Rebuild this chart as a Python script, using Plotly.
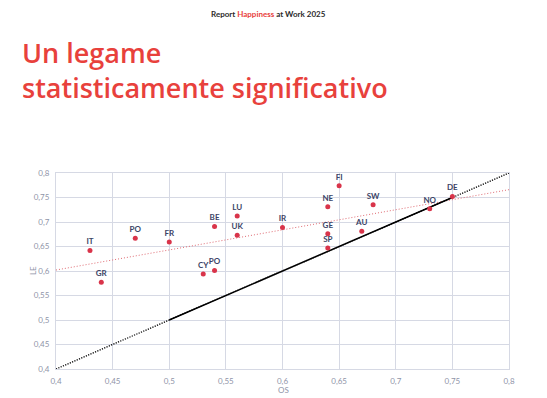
import plotly.graph_objects as go

# ---- data ----
countries = ["IT", "GR", "PO", "FR", "CY", "PO", "BE", "LU", "UK", "IR",
             "NE", "GE", "SP", "FI", "AU", "SW", "NO", "DE"]
os_vals = [0.43, 0.44, 0.47, 0.50, 0.53, 0.54, 0.54, 0.56, 0.56, 0.60,
           0.64, 0.64, 0.64, 0.65, 0.67, 0.68, 0.73, 0.75]
le_vals = [0.642, 0.577, 0.667, 0.659, 0.594, 0.601, 0.691, 0.712, 0.673, 0.689,
           0.731, 0.676, 0.647, 0.774, 0.681, 0.735, 0.727, 0.752]

diag_x = [0.4, 0.8]
diag_y = [0.4, 0.8]
diag_solid_x = [0.5, 0.75]
diag_solid_y = [0.5, 0.75]
trend_x = [0.4, 0.8]
trend_y = [0.602, 0.766]

tick_vals = [0.4, 0.45, 0.5, 0.55, 0.6, 0.65, 0.7, 0.75, 0.8]

RED = "#e8413c"
NAVY = "#3b4466"
GRID = "#d6d9e4"
TICK = "#8f94a8"

fig = go.Figure()

fig.add_trace(go.Scatter(x=trend_x, y=trend_y, mode="lines",
                         line=dict(color="#e06a72", width=1, dash="1px,2px"),
                         hoverinfo="skip", showlegend=False))
fig.add_trace(go.Scatter(x=diag_x, y=diag_y, mode="lines",
                         line=dict(color="black", width=1.3, dash="1.2px,1.3px"),
                         hoverinfo="skip", showlegend=False))
fig.add_trace(go.Scatter(x=diag_solid_x, y=diag_solid_y, mode="lines",
                         line=dict(color="black", width=1.5),
                         hoverinfo="skip", showlegend=False))
fig.add_trace(go.Scatter(x=os_vals, y=le_vals, mode="markers+text",
                         text=countries, textposition="top center",
                         textfont=dict(family="Lato", size=8, color=NAVY, weight="bold"),
                         marker=dict(color="#d9344a", size=5),
                         showlegend=False))

axis_common = dict(range=[0.4, 0.8], tickvals=tick_vals, showgrid=True,
                   gridcolor=GRID, gridwidth=1, zeroline=False,
                   showline=True, mirror=True, linecolor=GRID, linewidth=1,
                   ticks="", tickfont=dict(family="Lato", size=8, color=TICK))

fig.update_layout(
    width=547, height=398,
    margin=dict(l=56, r=38, t=173, b=27),
    paper_bgcolor="white", plot_bgcolor="white",
    separators=", ",
    xaxis=dict(**axis_common),
    yaxis=dict(**axis_common),
    font=dict(family="Lato"),
)
fig.update_xaxes(ticklabelstandoff=4)
fig.update_yaxes(ticklabelstandoff=4)

def px_x(p):
    return (p - 56) / 453

def px_y(p):
    return (371 - p) / 198

fig.add_annotation(text="Report <span style='color:%s'>Happiness</span> at Work 2025" % RED,
                   xref="paper", yref="paper", x=px_x(268), y=px_y(12),
                   xanchor="center", yanchor="middle", showarrow=False,
                   font=dict(family="Lato", size=8, color="#2b2b2b", weight="bold"))
fig.add_annotation(text="Un legame<br>statisticamente significativo",
                   xref="paper", yref="paper", x=px_x(20), y=px_y(69),
                   xanchor="left", yanchor="middle", align="left", showarrow=False,
                   font=dict(family="Open Sans", size=27, color=RED, weight=600))
fig.add_annotation(text="LE", textangle=-90,
                   xref="paper", yref="paper", x=px_x(33), y=px_y(272),
                   xanchor="center", yanchor="middle", showarrow=False,
                   font=dict(family="Lato", size=8, color=TICK))
fig.add_annotation(text="OS",
                   xref="paper", yref="paper", x=px_x(283), y=px_y(392),
                   xanchor="center", yanchor="middle", showarrow=False,
                   font=dict(family="Lato", size=8, color=TICK))

fig.write_html("out.html")
